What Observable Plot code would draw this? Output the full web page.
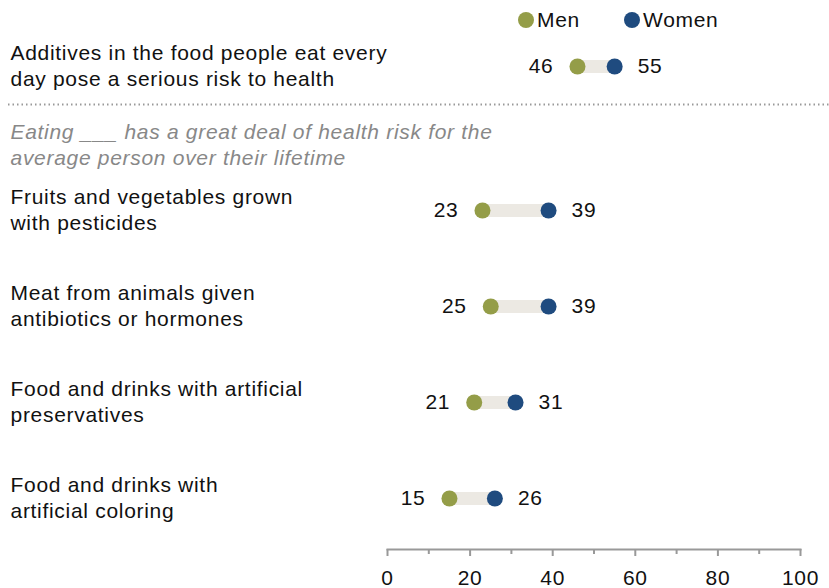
<!DOCTYPE html>
<html>
<head>
<meta charset="utf-8">
<script src="https://cdn.jsdelivr.net/npm/d3@7"></script>
<script src="https://cdn.jsdelivr.net/npm/@observablehq/plot@0.6"></script>
<style>
  html, body { margin: 0; padding: 0; background: #fff; }
  #wrap { position: relative; width: 829px; height: 588px; font-family: "Liberation Sans", Arial, sans-serif; }
  #legend { font-size: 21px; letter-spacing: 0.7px; color: #111; }
  #legend span.item { position: absolute; top: 8px; height: 24px; line-height: 24px; display: inline-flex; align-items: center; }
  #legend span.sw { display: inline-block; width: 16px; height: 16px; border-radius: 50%; margin-right: 3px; }
</style>
</head>
<body>
<div id="wrap">
  <div id="legend"></div>
</div>
<script>
const categories = [
  "Additives in the food people eat every\nday pose a serious risk to health",
  "Fruits and vegetables grown\nwith pesticides",
  "Meat from animals given\nantibiotics or hormones",
  "Food and drinks with artificial\npreservatives",
  "Food and drinks with\nartificial coloring"
];
const men = [46, 23, 25, 21, 15];
const women = [55, 39, 39, 31, 26];
const seriesNames = ["Men", "Women"];
const seriesColors = ["#949d48", "#1f4b7f"];
const subtitle = "Eating ___ has a great deal of health risk for the\naverage person over their lifetime";
const majorTicks = [0, 20, 40, 60, 80, 100];
const minorTicks = [10, 30, 50, 70, 90];

const data = categories.map((c, i) => ({label: c, men: men[i], women: women[i]}));

// y domain: rows with half-step spacers (extra gap for the subtitle)
const yDomain = [categories[0], "_s1", "_s2", categories[1], "_s3", categories[2], "_s4", categories[3], "_s5", categories[4]];

const font = "Liberation Sans, Arial, sans-serif";

const chart = Plot.plot({
  width: 829,
  height: 588,
  marginLeft: 387,
  marginRight: 29,
  marginTop: 0,
  marginBottom: 39,
  style: {fontFamily: font, fontSize: "21px", letterSpacing: "0.7px", color: "#111", background: "transparent"},
  x: {domain: [0, 100]},
  y: {type: "point", domain: yDomain, range: [64, 500], padding: 0, axis: null},
  marks: [
    // dotted separator
    Plot.ruleY([{y: "_s1"}], {y: "y", dy: -10, insetLeft: -379, insetRight: -29, stroke: "#999", strokeWidth: 2, strokeDasharray: "1.5,3"}),
    // subtitle
    Plot.text([{y: "_s1", t: subtitle}], {y: "y", text: "t", frameAnchor: "left", dx: -377, dy: 29, textAnchor: "start", lineHeight: 26/21, fill: "#888", fontStyle: "italic", fontSize: 21}),
    // row labels
    Plot.text(data, {y: "label", text: "label", frameAnchor: "left", dx: -377, dy: -2, textAnchor: "start", lineHeight: 26/21, fill: "#111", fontSize: 21}),
    // connector
    Plot.ruleY(data, {y: "label", x1: "men", x2: "women", stroke: "#ece9e3", strokeWidth: 13}),
    // dots
    Plot.dot(data, {y: "label", x: "men", r: 8, fill: seriesColors[0]}),
    Plot.dot(data, {y: "label", x: "women", r: 8, fill: seriesColors[1]}),
    // values
    Plot.text(data, {y: "label", x: "men", text: d => String(d.men), textAnchor: "end", dx: -24, fontSize: 21, fill: "#111"}),
    Plot.text(data, {y: "label", x: "women", text: d => String(d.women), textAnchor: "start", dx: 23, fontSize: 21, fill: "#111"}),
    // axis
    Plot.frame({anchor: "bottom", stroke: "#999", strokeWidth: 2}),
    Plot.axisX({ticks: majorTicks, tickSize: 7, tickPadding: 14, stroke: "#999", strokeWidth: 2, fontSize: 21, fill: "#111", tickFormat: d => String(d), label: null}),
    Plot.axisX({ticks: minorTicks, tickSize: 5, text: null, stroke: "#999", strokeWidth: 2, label: null})
  ]
});

const wrap = document.getElementById("wrap");
wrap.insertBefore(chart, wrap.firstChild);

const legend = document.getElementById("legend");
const legendLeft = [518, 624];
seriesNames.forEach((name, i) => {
  const item = document.createElement("span");
  item.className = "item";
  item.style.left = legendLeft[i] + "px";
  const sw = document.createElement("span");
  sw.className = "sw";
  sw.style.background = seriesColors[i];
  item.appendChild(sw);
  item.appendChild(document.createTextNode(name));
  legend.appendChild(item);
});
</script>
</body>
</html>
